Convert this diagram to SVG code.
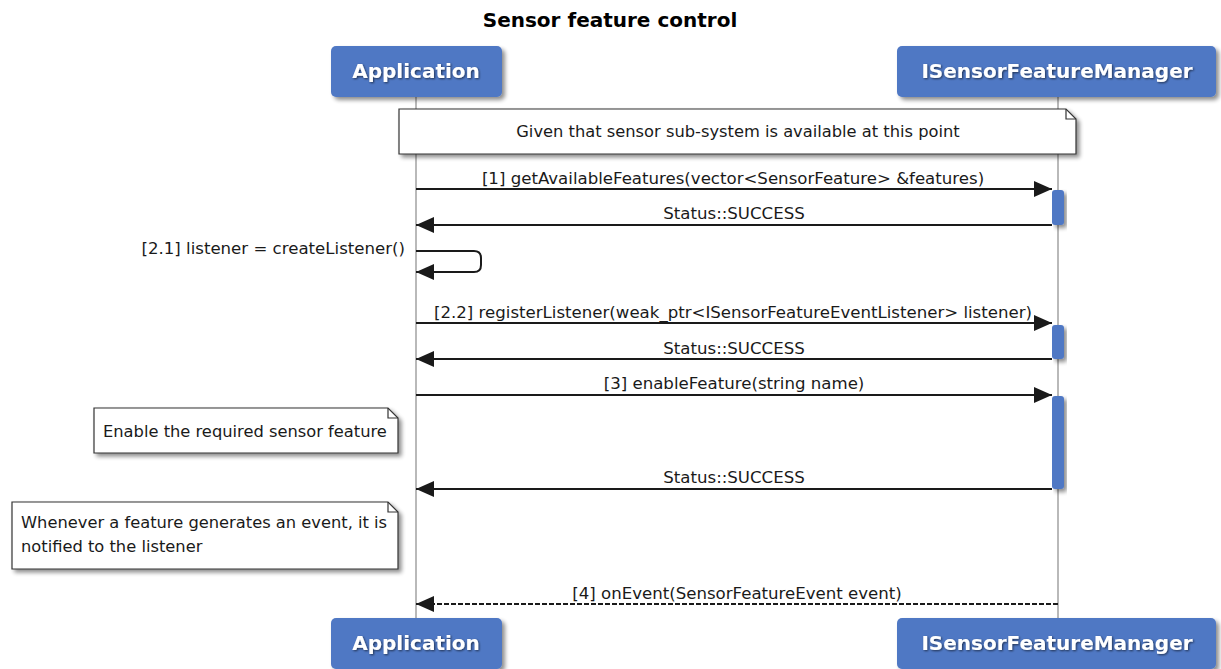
<svg xmlns="http://www.w3.org/2000/svg" width="1221" height="669" viewBox="0 0 1221 669">
<style>
.part{fill:#4f78c4;}
.plabel{font-family:"DejaVu Sans",sans-serif;font-weight:bold;font-size:20px;fill:#ffffff;text-anchor:middle;}
.life{stroke:#8a8a8a;stroke-width:1.2;fill:none;}
.msg{stroke:#1a1a1a;stroke-width:2;fill:none;}
.dash{stroke:#1a1a1a;stroke-width:2;fill:none;stroke-dasharray:5,2;}
.txt{font-family:"DejaVu Sans",sans-serif;font-size:16.6px;fill:#1a1a1a;}
.ntxt{font-family:"DejaVu Sans",sans-serif;font-size:16.3px;fill:#1a1a1a;}
.mid{text-anchor:middle;}
.note{fill:#ffffff;stroke:#333333;stroke-width:1.2;}
.act{fill:#4f78c4;}
.title{font-family:"DejaVu Sans",sans-serif;font-weight:bold;font-size:20px;fill:#000000;text-anchor:middle;}
</style>
<defs>
<filter id="sh" x="-10%" y="-10%" width="130%" height="140%">
<feGaussianBlur in="SourceAlpha" stdDeviation="2"/>
<feOffset dx="3" dy="3" result="b"/>
<feComponentTransfer><feFuncA type="linear" slope="0.45"/></feComponentTransfer>
<feMerge><feMergeNode/><feMergeNode in="SourceGraphic"/></feMerge>
</filter>
<filter id="tsh" x="-10%" y="-20%" width="130%" height="160%">
<feGaussianBlur in="SourceAlpha" stdDeviation="1.2"/>
<feOffset dx="1" dy="1"/>
<feComponentTransfer><feFuncA type="linear" slope="0.6"/></feComponentTransfer>
<feMerge><feMergeNode/><feMergeNode in="SourceGraphic"/></feMerge>
</filter>
<marker id="ah" markerWidth="19" markerHeight="16" refX="18" refY="8" orient="auto" markerUnits="userSpaceOnUse">
<path d="M0,0 L18,8 L0,16 Z" fill="#1a1a1a"/>
</marker>
</defs>
<rect width="1221" height="669" fill="#ffffff"/>
<text class="title" x="610" y="27">Sensor feature control</text>

<g id="lifelines">
<line class="life" x1="416" y1="97" x2="416" y2="618"/>
<line class="life" x1="1058" y1="97" x2="1058" y2="618"/>
</g>

<g id="participant-application-top">
<rect class="part" x="331" y="46" width="171" height="51" rx="5" filter="url(#sh)"/>
<text class="plabel" x="416" y="78" filter="url(#tsh)">Application</text>
</g>
<g id="participant-manager-top">
<rect class="part" x="897" y="46" width="319" height="51" rx="5" filter="url(#sh)"/>
<text class="plabel" x="1057" y="78" filter="url(#tsh)">ISensorFeatureManager</text>
</g>
<g id="participant-application-bottom">
<rect class="part" x="331" y="618" width="171" height="51" rx="5" filter="url(#sh)"/>
<text class="plabel" x="416" y="650" filter="url(#tsh)">Application</text>
</g>
<g id="participant-manager-bottom">
<rect class="part" x="897" y="618" width="319" height="51" rx="5" filter="url(#sh)"/>
<text class="plabel" x="1057" y="650" filter="url(#tsh)">ISensorFeatureManager</text>
</g>

<g id="activations">
<rect class="act" x="1052" y="190" width="12" height="35" rx="3" filter="url(#sh)"/>
<rect class="act" x="1052" y="325" width="12" height="34" rx="3" filter="url(#sh)"/>
<rect class="act" x="1052" y="396" width="12" height="93" rx="3" filter="url(#sh)"/>
</g>

<g id="note-given">
<path class="note" d="M399,109 L1066,109 L1076,119 L1076,154 L399,154 Z" filter="url(#sh)"/>
<path d="M1066,109 L1066,119 L1076,119" fill="none" stroke="#333333" stroke-width="1.2"/>
<text class="ntxt mid" x="738" y="137">Given that sensor sub-system is available at this point</text>
</g>
<g id="note-enable">
<path class="note" d="M94,408 L388,408 L398,418 L398,453 L94,453 Z" filter="url(#sh)"/>
<path d="M388,408 L388,418 L398,418" fill="none" stroke="#333333" stroke-width="1.2"/>
<text class="ntxt" x="103" y="437">Enable the required sensor feature</text>
</g>
<g id="note-whenever">
<path class="note" d="M12,502 L388,502 L398,512 L398,569 L12,569 Z" filter="url(#sh)"/>
<path d="M388,502 L388,512 L398,512" fill="none" stroke="#333333" stroke-width="1.2"/>
<text class="ntxt" x="21" y="528">Whenever a feature generates an event, it is</text>
<text class="ntxt" x="21" y="552">notified to the listener</text>
</g>

<g id="connectors">
<line class="msg" x1="416" y1="189" x2="1052" y2="189" marker-end="url(#ah)"/>
<text class="txt mid" x="733" y="184">[1] getAvailableFeatures(vector&lt;SensorFeature&gt; &amp;features)</text>
<line class="msg" x1="1052" y1="225" x2="416" y2="225" marker-end="url(#ah)"/>
<text class="txt mid" x="734" y="219">Status::SUCCESS</text>

<path class="msg" d="M416,251 L474,251 Q481,251 481,258 L481,265 Q481,272 474,272 L416,272" marker-end="url(#ah)"/>
<text class="txt" x="405" y="254" text-anchor="end">[2.1] listener = createListener()</text>

<line class="msg" x1="416" y1="323" x2="1052" y2="323" marker-end="url(#ah)"/>
<text class="txt mid" x="733" y="318">[2.2] registerListener(weak_ptr&lt;ISensorFeatureEventListener&gt; listener)</text>
<line class="msg" x1="1052" y1="359" x2="416" y2="359" marker-end="url(#ah)"/>
<text class="txt mid" x="734" y="354">Status::SUCCESS</text>

<line class="msg" x1="416" y1="395" x2="1052" y2="395" marker-end="url(#ah)"/>
<text class="txt mid" x="734" y="389">[3] enableFeature(string name)</text>
<line class="msg" x1="1052" y1="489" x2="416" y2="489" marker-end="url(#ah)"/>
<text class="txt mid" x="734" y="483">Status::SUCCESS</text>

<line class="dash" x1="1058" y1="604" x2="416" y2="604" marker-end="url(#ah)"/>
<text class="txt mid" x="737" y="599">[4] onEvent(SensorFeatureEvent event)</text>
</g>
</svg>
